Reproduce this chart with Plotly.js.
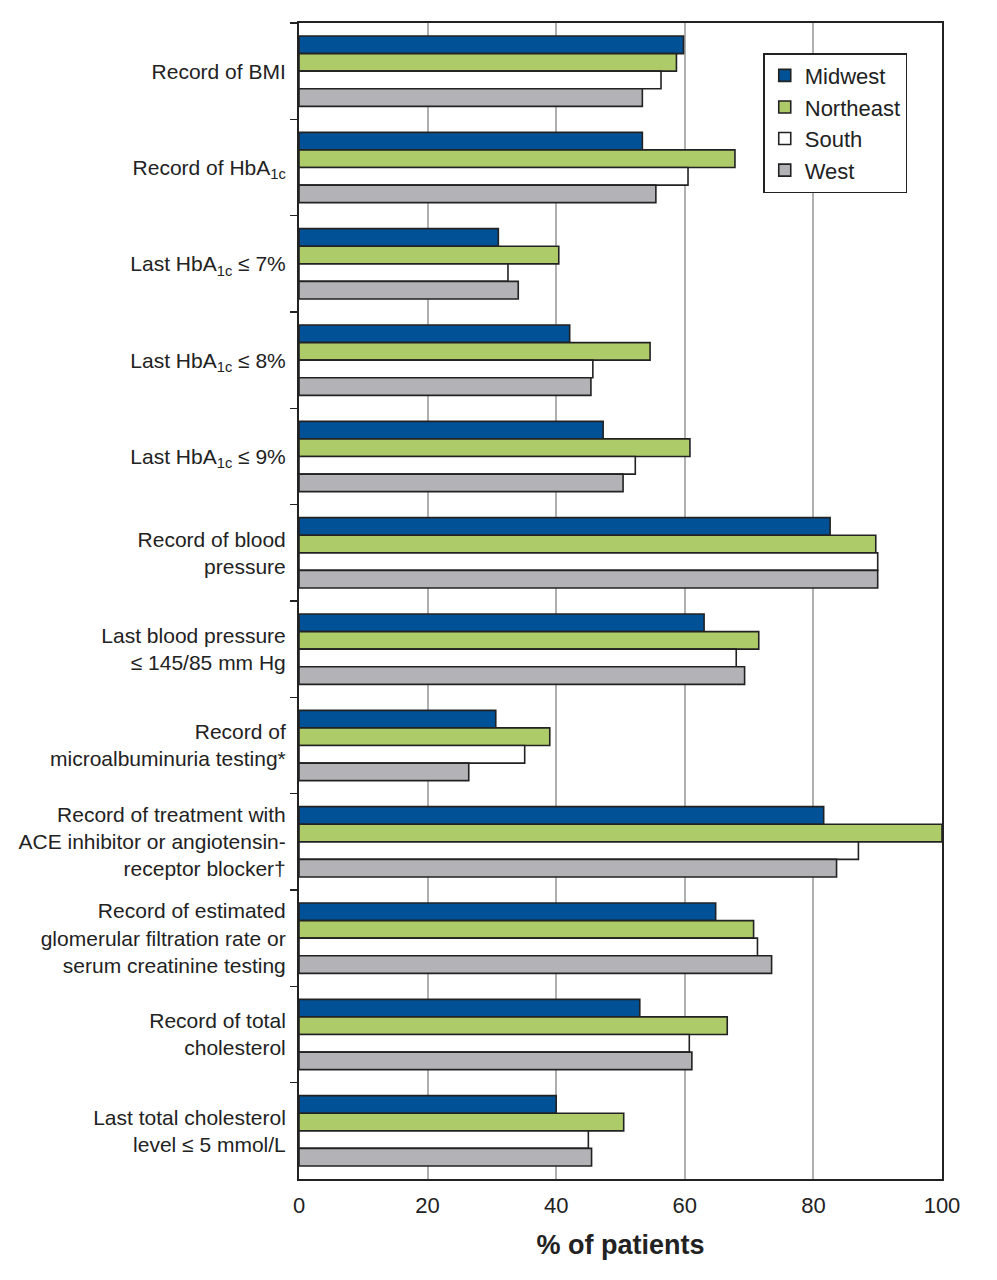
<!DOCTYPE html>
<html>
<head>
<meta charset="utf-8">
<script src="https://cdn.plot.ly/plotly-3.0.1.min.js"></script>
<style>html,body{margin:0;padding:0;background:#fff;}#chart{width:997px;height:1280px;}</style>
</head>
<body>
<div id="chart"></div>
<script>
const categories = [
  "Record of BMI",
  "Record of HbA<sub>1c</sub>",
  "Last HbA<sub>1c</sub> ≤ 7%",
  "Last HbA<sub>1c</sub> ≤ 8%",
  "Last HbA<sub>1c</sub> ≤ 9%",
  "Record of blood<br>pressure",
  "Last blood pressure<br>≤ 145/85 mm Hg",
  "Record of<br>microalbuminuria testing*",
  "Record of treatment with<br>ACE inhibitor or angiotensin-<br>receptor blocker†",
  "Record of estimated<br>glomerular filtration rate or<br>serum creatinine testing",
  "Record of total<br>cholesterol",
  "Last total cholesterol<br>level ≤ 5 mmol/L"
];
const midwest   = [59.8, 53.4, 31.0, 42.1, 47.3, 82.6, 63.0, 30.6, 81.6, 64.8, 53.0, 40.0];
const northeast = [58.7, 67.8, 40.4, 54.6, 60.8, 89.7, 71.5, 39.0, 100.0, 70.7, 66.6, 50.5];
const south     = [56.3, 60.5, 32.5, 45.7, 52.3, 90.0, 68.0, 35.1, 87.0, 71.3, 60.7, 45.0];
const west      = [53.4, 55.5, 34.1, 45.4, 50.4, 90.0, 69.3, 26.4, 83.6, 73.5, 61.1, 45.5];
const xTicks = [0, 20, 40, 60, 80, 100];

const seriesNames = ["Midwest", "Northeast", "South", "West"];
const seriesVals = [midwest, northeast, south, west];
const colors = ["#005195", "#aecb6a", "#ffffff", "#b3b3b7"];

const traces = seriesNames.map((n, i) => ({
  type: "bar",
  orientation: "h",
  name: n,
  legendgroup: n,
  y: categories,
  x: seriesVals[i],
  marker: {color: colors[i], line: {color: "#222222", width: 1.6}},
  hoverinfo: "x+name"
}));

const layout = {
  width: 997,
  height: 1280,
  margin: {l: 299, r: 55, t: 23, b: 101},
  paper_bgcolor: "#ffffff",
  plot_bgcolor: "#ffffff",
  font: {family: "Liberation Sans, Arial, sans-serif", color: "#222222"},
  barmode: "group",
  bargap: 0.27,
  bargroupgap: 0,
  showlegend: true,
  legend: {
    x: 0.722, y: 0.974, xanchor: "left", yanchor: "top",
    bgcolor: "#ffffff", bordercolor: "#222222", borderwidth: 1.5,
    font: {size: 22, color: "#222222"},
    traceorder: "normal",
    tracegroupgap: 4,
    itemwidth: 30
  },
  xaxis: {
    range: [0, 100],
    tickvals: xTicks,
    ticktext: xTicks.map(String),
    showgrid: true,
    gridcolor: "#b0b0b0",
    gridwidth: 2,
    zeroline: false,
    showline: true,
    linecolor: "#222222",
    linewidth: 2,
    mirror: true,
    ticks: "",
    tickfont: {size: 22, color: "#222222"},
    ticklabelstandoff: 6,
    title: {text: "<b>% of patients</b>", font: {size: 27, color: "#222222"}, standoff: 18}
  },
  yaxis: {
    type: "category",
    autorange: "reversed",
    showgrid: false,
    zeroline: false,
    showline: true,
    linecolor: "#222222",
    linewidth: 2,
    mirror: true,
    ticks: "outside",
    ticklen: 7,
    tickwidth: 1.5,
    tickcolor: "#222222",
    tickson: "boundaries",
    tickfont: {size: 21, color: "#222222"},
    ticklabelstandoff: 7
  }
};

Plotly.newPlot("chart", traces, layout, {displayModeBar: false, staticPlot: true});
</script>
</body>
</html>
